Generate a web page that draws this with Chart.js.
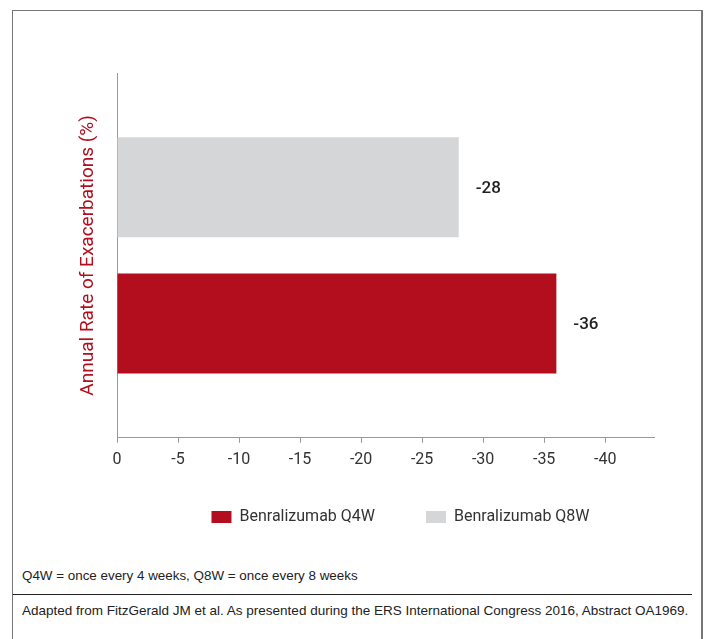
<!doctype html>
<html>

<head>
	<title>Annual Rate of Exacerbations</title>
	<script src="https://cdn.jsdelivr.net/npm/chart.js@4/dist/chart.umd.min.js"></script>
	<style>
		body {
			margin: 0;
			background: #fff;
		}
		#box {
			position: absolute;
			left: 12px;
			top: 10px;
			width: 688px;
			height: 650px;
			border: 1px solid #777;
			border-right-width: 2px;
		}
		#wrap {
			position: absolute;
			left: 0;
			top: 0;
			width: 688px;
			height: 554px;
		}
		.note {
			position: absolute;
			left: 9px;
			font-family: 'Liberation Sans', Arial, sans-serif;
			color: #222;
			white-space: nowrap;
		}
		#rule {
			position: absolute;
			left: 0;
			top: 583px;
			width: 679px;
			border-top: 1px solid #222;
		}
	</style>
</head>

<body>
	<div id="box">
		<div id="wrap">
			<canvas id="canvas"></canvas>
		</div>
		<div class="note" style="top:557px;font-size:13.4px">Q4W = once every 4 weeks, Q8W = once every 8 weeks</div>
		<div id="rule"></div>
		<div class="note" style="top:592px;font-size:13.5px">Adapted from FitzGerald JM et al. As presented during the ERS International Congress 2016, Abstract OA1969.</div>
	</div>
	<script>
		const categories = [''];
		const q8wLabel = 'Benralizumab Q8W';
		const q4wLabel = 'Benralizumab Q4W';
		const q8wValues = [-28];
		const q4wValues = [-36];
		const axisMin = -44;
		const axisStep = 5;
		const yTitle = 'Annual Rate of Exacerbations (%)';

		const RED = '#b20e1d';
		const GREY = '#d5d6d8';

		// value text to the right of each bar
		const valueLabels = {
			id: 'valueLabels',
			afterDatasetsDraw(chart) {
				const ctx = chart.ctx;
				ctx.save();
				ctx.font = '500 17px Roboto';
				ctx.fillStyle = '#222';
				ctx.textAlign = 'left';
				ctx.textBaseline = 'middle';
				chart.data.datasets.forEach((ds, i) => {
					chart.getDatasetMeta(i).data.forEach((bar, j) => {
						ctx.fillText(String(ds.data[j]), bar.x + 17, bar.y + 1);
					});
				});
				ctx.restore();
			}
		};

		// move the legend under the plot area centre, a bit higher
		const legendShift = {
			id: 'legendShift',
			afterLayout(chart) {
				const lg = chart.legend;
				lg.left += 35;
				lg.right += 35;
				lg.top -= 20;
				lg.bottom -= 20;
			}
		};

		window.onload = function() {
			const ctx = document.getElementById('canvas').getContext('2d');
			window.myBar = new Chart(ctx, {
				type: 'bar',
				data: {
					labels: categories,
					datasets: [{
						label: q8wLabel,
						data: q8wValues,
						backgroundColor: GREY
					}, {
						label: q4wLabel,
						data: q4wValues,
						backgroundColor: RED
					}]
				},
				options: {
					indexAxis: 'y',
					responsive: true,
					maintainAspectRatio: false,
					animation: false,
					categoryPercentage: 0.747,
					barPercentage: 0.735,
					layout: {
						padding: { left: 64, right: 47, top: 62, bottom: 10 }
					},
					scales: {
						x: {
							type: 'linear',
							min: axisMin,
							max: 0,
							reverse: true,
							afterBuildTicks(scale) {
								scale.ticks = scale.ticks.filter(t => t.value % axisStep === 0);
							},
							grid: {
								drawOnChartArea: false,
								tickLength: 5,
								color: '#999'
							},
							border: { color: '#999' },
							ticks: {
								stepSize: axisStep,
								padding: 8,
								color: '#333',
								font: { family: 'Roboto', size: 16 },
								maxRotation: 0
							}
						},
						y: {
							type: 'category',
							offset: true,
							afterFit(scale) {
								scale.width = 40;
							},
							grid: { display: false },
							border: { color: '#999' },
							ticks: { display: false },
							title: {
								display: true,
								text: yTitle,
								color: RED,
								padding: 0,
								font: { family: 'Roboto', size: 19 }
							}
						}
					},
					plugins: {
						legend: {
							position: 'bottom',
							reverse: true,
							labels: {
								boxWidth: 20,
								boxHeight: 12,
								padding: 51,
								color: '#333',
								font: { family: 'Roboto', size: 16 }
							}
						},
						tooltip: { enabled: false }
					}
				},
				plugins: [valueLabels, legendShift]
			});
		};
	</script>
</body>

</html>
